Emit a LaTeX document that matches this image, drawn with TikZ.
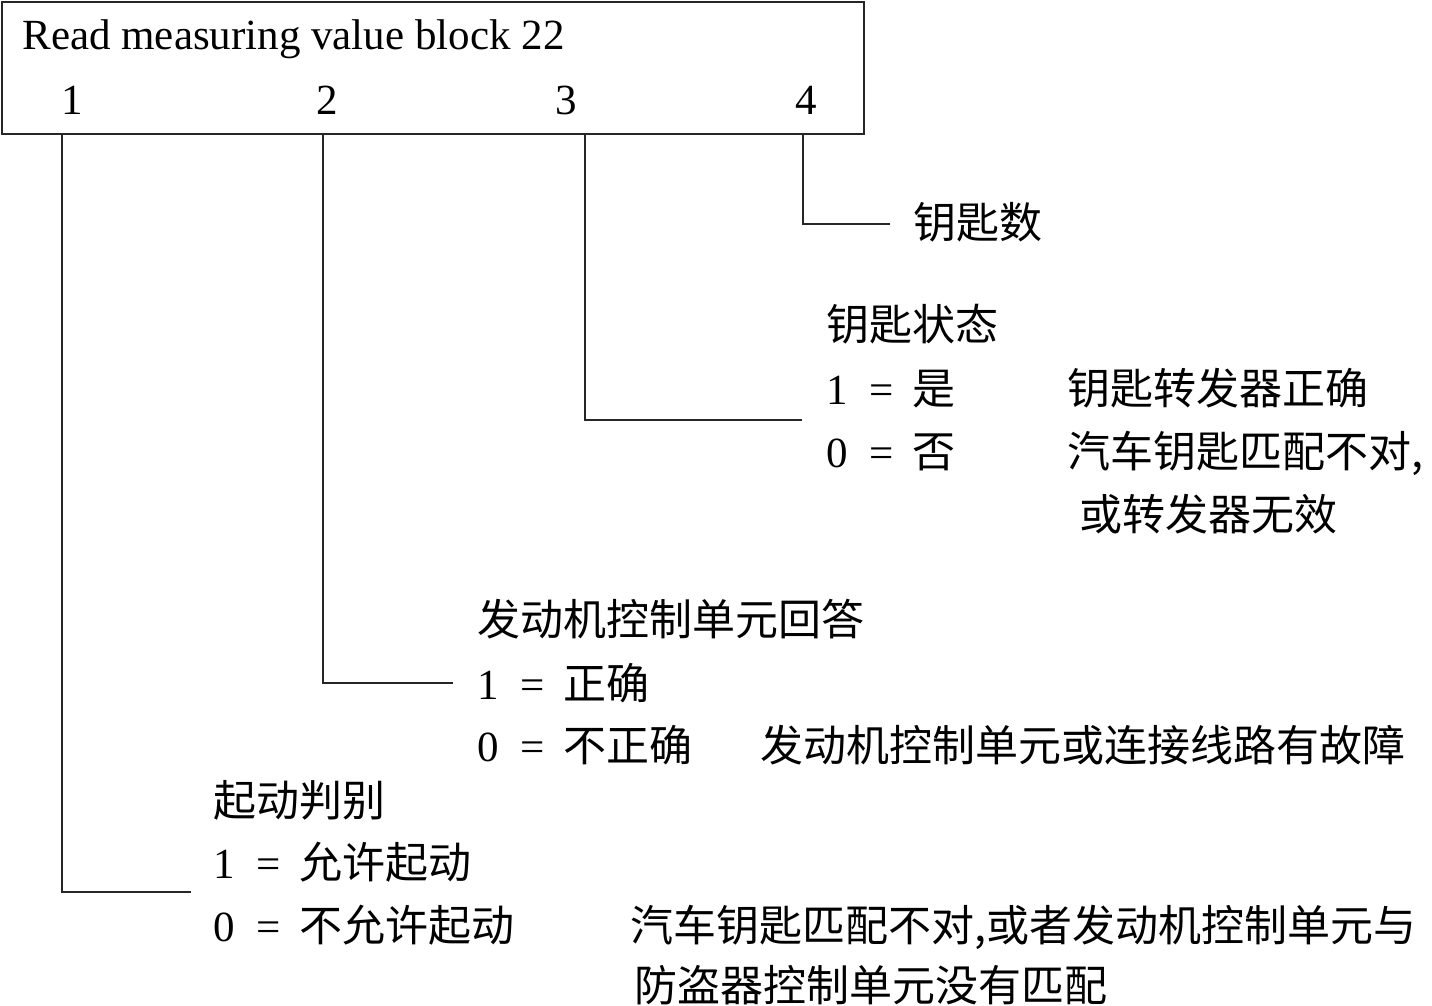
\documentclass[tikz,border=0pt]{standalone}
\usepackage{fontspec}
\setmainfont{Liberation Serif}
\newfontfamily\cjk{Noto Sans CJK SC}
\newcommand\eqrow[2]{\makebox[21.5pt][l]{#1}\makebox[21.5pt][l]{=}{\cjk #2}}
\tikzset{
  txt/.style={anchor=base west, inner sep=0pt, font=\fontsize{21.5}{26}\selectfont},
  cjktxt/.style={txt, font=\fontsize{21.5}{26}\selectfont\cjk},
  num/.style={anchor=base, inner sep=0pt, font=\fontsize{21.5}{26}\selectfont},
  link/.style={draw=black!85, line width=0.8pt},
  frame/.style={draw=black!85, line width=0.8pt, anchor=north west, inner sep=0pt,
                minimum width=431pt, minimum height=66pt}
}
\begin{document}
\begin{tikzpicture}[x=0.5pt,y=-0.5pt]
\useasboundingbox (0,0) rectangle (1432,1006);
% header box
\node[frame] (hdr) at (1,1) {};
\node[txt] (title) at (22,50) {Read measuring value block 22};
\node[num] (n1) at (72,115) {1};
\node[num] (n2) at (327,115) {2};
\node[num] (n3) at (566,115) {3};
\node[num] (n4) at (806,115) {4};
% field 4
\node[cjktxt] (k4) at (913,239) {钥匙数};
% field 3
\node[cjktxt] (k3) at (826,341) {钥匙状态};
\node[txt] (k3a) at (826,404) {\eqrow{1}{是}};
\node[cjktxt] (k3ad) at (1067,404) {钥匙转发器正确};
\node[txt] (k3b) at (826,467) {\eqrow{0}{否}};
\node[cjktxt] (k3bd) at (1067,467) {汽车钥匙匹配不对,};
\node[cjktxt] (k3bd2) at (1079,530) {或转发器无效};
% field 2
\node[cjktxt] (k2) at (477,635) {发动机控制单元回答};
\node[txt] (k2a) at (477,699) {\eqrow{1}{正确}};
\node[txt] (k2b) at (477,761) {\eqrow{0}{不正确}};
\node[cjktxt] (k2bd) at (760,761) {发动机控制单元或连接线路有故障};
% field 1
\node[cjktxt] (k1) at (213,816) {起动判别};
\node[txt] (k1a) at (213,878) {\eqrow{1}{允许起动}};
\node[txt] (k1b) at (213,941) {\eqrow{0}{不允许起动}};
\node[cjktxt] (k1bd) at (630,941) {汽车钥匙匹配不对,或者发动机控制单元与};
\node[cjktxt] (k1bd2) at (634,1001) {防盗器控制单元没有匹配};
% connector anchors
\coordinate (t1) at (62,133);  \coordinate (e1) at (191,892);
\coordinate (t2) at (323,133); \coordinate (e2) at (453,683);
\coordinate (t3) at (585,133); \coordinate (e3) at (802,420);
\coordinate (t4) at (803,133); \coordinate (e4) at (890,224);
\draw[link] (t1) |- (e1);
\draw[link] (t2) |- (e2);
\draw[link] (t3) |- (e3);
\draw[link] (t4) |- (e4);
\end{tikzpicture}
\end{document}
